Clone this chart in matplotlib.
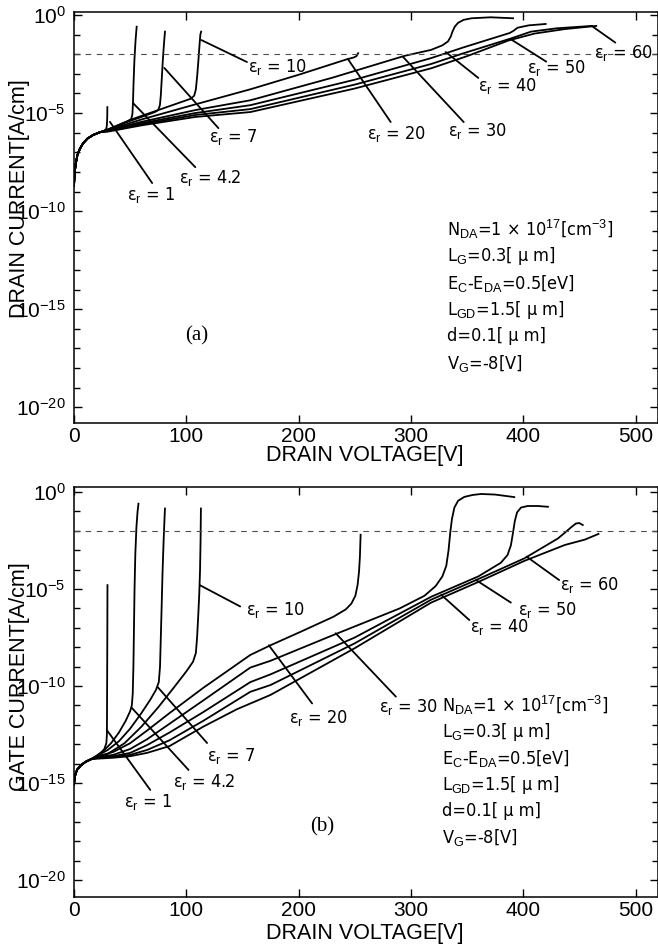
import numpy as np
import matplotlib
matplotlib.use("Agg")
import matplotlib.pyplot as plt
from matplotlib.font_manager import FontProperties, findfont
from matplotlib.ticker import FixedLocator, FuncFormatter, NullFormatter

# curves: (drain voltage [V], log10 of current [A/cm])
drain_start = [(0, -8.7), (0.5, -8.1), (1.5, -7.6), (3, -7.15), (5, -6.85), (8, -6.55),
               (12, -6.3), (17, -6.12), (23, -5.98)]
drain_er1 = [(27, -5.9), (28.8, -5.8), (29.3, -5.6), (29.6, -5.2), (29.7, -4.7)]
drain_er4 = [(30, -5.84), (40, -5.6), (48, -5.42), (51, -5.3), (52, -5.05), (52.5, -4.5),
             (53, -3.5), (53.8, -2.3), (54.8, -1.3), (55.8, -0.6)]
drain_er7 = [(30, -5.85), (45, -5.5), (60, -5.2), (72, -4.95), (75, -4.85), (76.5, -4.6),
             (77.3, -4.1), (78.2, -3.2), (79.2, -2.2), (80.2, -1.4), (81, -0.85)]
drain_er10 = [(30, -5.86), (50, -5.35), (75, -4.85), (95, -4.45), (104, -4.27), (107, -4.12),
              (108.5, -3.8), (109.7, -3.1), (110.8, -2.3), (111.8, -1.5), (112.5, -1.0), (113.2, -0.85)]
drain_er20 = [(30, -5.87), (60, -5.33), (108, -4.56), (157, -3.79), (200, -3.05), (243, -2.26),
              (249, -2.17), (251.5, -2.1), (253, -1.95)]
drain_er30 = [(30, -5.88), (60, -5.45), (108, -4.85), (157, -4.35), (230, -3.2), (294, -2.09),
              (318, -1.78), (328, -1.55), (333, -1.35), (335.5, -1.1), (337, -0.85), (339, -0.6),
              (342, -0.4), (347, -0.25), (354, -0.17), (371, -0.12), (391, -0.17)]
drain_er40 = [(30, -5.9), (60, -5.52), (108, -5.0), (157, -4.6), (250, -3.3), (318, -2.2),
              (347, -1.65), (375, -1.15), (388, -0.92), (391, -0.82), (395, -0.65), (405, -0.53),
              (420, -0.46)]
drain_er50 = [(30, -5.92), (60, -5.58), (108, -5.1), (157, -4.8), (250, -3.55), (318, -2.5),
              (347, -1.95), (389, -1.2), (407, -0.85), (430, -0.68), (461, -0.56)]
drain_er60 = [(30, -5.95), (60, -5.63), (108, -5.2), (157, -4.95), (250, -3.75), (318, -2.72),
              (350, -2.1), (387, -1.3), (410, -0.95), (437, -0.72), (465, -0.56)]

gate_start = [(0, -15.1), (0.5, -14.75), (1.5, -14.5), (3, -14.3), (6, -14.1), (10, -13.92),
              (15, -13.78)]
gate_er1 = [(20, -13.62), (24, -13.45), (27, -13.25), (28.8, -12.95), (29.3, -12.5), (29.5, -10),
            (29.7, -7), (29.8, -4.8)]
gate_er4 = [(20, -13.6), (27, -13.3), (33, -12.95), (40, -12.4), (46, -11.8), (50, -11.3),
            (51.5, -11.0), (52.3, -10.4), (52.9, -9), (53.4, -7), (53.9, -5), (54.6, -3.2),
            (55.6, -1.8), (56.6, -1.0), (57.4, -0.6)]
gate_er7 = [(20, -13.62), (30, -13.3), (40, -12.85), (50, -12.2), (60, -11.4), (68, -10.7),
            (73, -10.2), (75.5, -9.8), (76.6, -9.0), (77.3, -7.5), (78, -6), (78.8, -4.2),
            (79.8, -2.5), (80.5, -1.5), (81, -0.85)]
gate_er10 = [(20, -13.65), (30, -13.5), (45, -12.95), (60, -12.1), (75, -11.1), (90, -10.0),
             (100, -9.25), (106, -8.75), (108.5, -8.3), (109.6, -7.5), (110.6, -6.4), (111.5, -5.3),
             (112.2, -4.1), (112.7, -2.5), (113, -0.85)]
gate_er20 = [(20, -13.65), (35, -13.4), (50, -12.95), (65, -12.3), (85, -11.4), (115, -10.1),
             (157, -8.4), (175, -7.9), (202, -7.2), (231, -6.43), (242, -6.05), (247, -5.75),
             (250.5, -5.35), (252.5, -4.8), (253.8, -4.1), (254.6, -3.3), (255.2, -2.2)]
gate_er30 = [(20, -13.68), (35, -13.55), (50, -13.25), (65, -12.75), (85, -11.95), (115, -10.75),
             (157, -9.05), (175, -8.7), (231, -7.37), (290, -6.0), (312, -5.35), (322, -4.85),
             (328, -4.35), (331.5, -3.8), (333.5, -3.0), (335, -2.1), (336.5, -1.4), (338.7, -0.8),
             (342, -0.45), (347.6, -0.25), (355, -0.15), (362.5, -0.1), (375, -0.13), (392, -0.26)]
gate_er40 = [(20, -13.7), (35, -13.62), (50, -13.45), (65, -13.05), (85, -12.4), (115, -11.35),
             (157, -9.8), (175, -9.4), (250, -7.5), (318, -5.4), (360, -4.35), (380, -3.65),
             (386, -3.25), (389, -2.75), (390.8, -2.13), (392.5, -1.5), (394.5, -1.05), (398, -0.8),
             (404, -0.72), (413, -0.72), (422, -0.76)]
gate_er50 = [(20, -13.72), (35, -13.66), (50, -13.55), (65, -13.3), (85, -12.8), (115, -11.8),
             (157, -10.3), (175, -9.95), (250, -7.8), (318, -5.55), (359.5, -4.5), (401, -3.42),
             (431, -2.39), (438, -2.05), (443, -1.8), (447, -1.62), (450, -1.6), (453, -1.7)]
gate_er60 = [(20, -13.75), (35, -13.7), (50, -13.62), (65, -13.45), (85, -13.1), (115, -12.1),
             (145, -11.2), (175, -10.46), (250, -8.05), (318, -5.7), (359.5, -4.65), (401, -3.55),
             (437, -2.73), (455, -2.45), (467, -2.16)]

eps_values = ["1", "4.2", "7", "10", "20", "30", "40", "50", "60"]
drain_curves = [drain_er1, drain_er4, drain_er7, drain_er10, drain_er20,
                drain_er30, drain_er40, drain_er50, drain_er60]
gate_curves = [gate_er1, gate_er4, gate_er7, gate_er10, gate_er20,
               gate_er30, gate_er40, gate_er50, gate_er60]

# label text position, leader start, leader end (V, log10 I)
drain_labels = [((69, -9.2), (69.6, -8.57), (32, -5.45)),
                ((121, -8.3), (108, -7.76), (52.7, -4.5)),
                ((142, -6.2), (128.6, -5.77), (80.4, -2.7)),
                ((181, -2.65), (154, -2.4), (113.4, -1.28)),
                ((287, -6.05), (282, -5.46), (243.8, -2.24)),
                ((359, -5.9), (347, -5.46), (293, -2.14)),
                ((386, -3.6), (360, -3.21), (331, -1.89)),
                ((430, -2.72), (420.5, -2.38), (389, -1.24)),
                ((489, -1.95), (482, -1.41), (461, -0.56))]
gate_labels = [((66, -16.0), (67.9, -15.36), (29.2, -12.27)),
               ((116, -14.95), (102, -14.33), (51.5, -11.13)),
               ((140, -13.6), (118.5, -12.94), (74.4, -10.05)),
               ((179.5, -6.1), (148, -5.9), (112, -4.8)),
               ((218, -11.65), (212, -10.9), (173.5, -7.9)),
               ((298, -11.1), (286.6, -10.55), (233, -7.28)),
               ((378.6, -6.95), (352, -6.6), (327, -5.3)),
               ((422, -6.1), (389, -5.7), (358, -4.54)),
               ((459, -4.8), (432, -4.54), (403, -3.33))]

param_lines = [r"N$_{\mathrm{DA}}$=1 × 10$^{17}$[cm$^{-3}$]",
               r"L$_{\mathrm{G}}$=0.3[ μ m]",
               r"E$_{\mathrm{C}}$-E$_{\mathrm{DA}}$=0.5[eV]",
               r"L$_{\mathrm{GD}}$=1.5[ μ m]",
               "d=0.1[ μ m]",
               r"V$_{\mathrm{G}}$=-8[V]"]


def narrow_font():
    for fp in [FontProperties(family="Liberation Sans Narrow"),
               FontProperties(family="DejaVu Sans", stretch="condensed")]:
        try:
            path = findfont(fp, fallback_to_default=False)
        except Exception:
            continue
        if "Narrow" in path or "Condensed" in path:
            return path
    return None


narrow_path = narrow_font()


def nfont(size):
    if narrow_path:
        return FontProperties(fname=narrow_path, size=size)
    return FontProperties(family="Liberation Sans", size=size * 0.88)


plt.rcParams["font.family"] = ["Liberation Sans", "DejaVu Sans"]
plt.rcParams["mathtext.fontset"] = "custom"
plt.rcParams["mathtext.rm"] = "Liberation Sans"
plt.rcParams["mathtext.it"] = "Liberation Sans:italic"

fig = plt.figure(figsize=(6.58, 9.48), dpi=100)
W, H = 658.0, 948.0


def panel(rect, start, curves, labels, ylim, tag, tag_pos, par_pos, ylab, ylab_y, xlab_y):
    ax = fig.add_axes(rect)
    ax.set_yscale("log")
    for c in curves:
        pts = np.array(start + c)
        ax.plot(pts[:, 0], 10.0 ** pts[:, 1], color="k", lw=1.3, solid_joinstyle="round")
    ax.axhline(1e-2, color="0.3", lw=0.8, ls=(0, (5, 5)))
    for val, (txt, a, b) in zip(eps_values, labels):
        ax.annotate("", xy=(b[0], 10 ** b[1]), xytext=(a[0], 10 ** a[1]),
                    arrowprops=dict(arrowstyle="-", lw=1.3, color="k", shrinkA=0, shrinkB=0))
        ax.text(txt[0], 10 ** txt[1], r"ε$_{\mathrm{r}}$ = " + val, fontproperties=nfont(13),
                ha="center", va="center")
    ax.set_xlim(0, 520)
    ax.set_ylim(10 ** ylim[0], 10 ** ylim[1])
    ax.set_xticks([0, 100, 200, 300, 400, 500])
    ax.yaxis.set_major_locator(FixedLocator(10.0 ** np.arange(-20, 1, 5)))
    ax.yaxis.set_minor_locator(FixedLocator(10.0 ** np.arange(-21, 1)))
    ax.yaxis.set_minor_formatter(NullFormatter())
    ax.yaxis.set_major_formatter(FuncFormatter(lambda v, p: r"$\mathrm{10^{%d}}$" % round(np.log10(v))))
    ax.tick_params(which="both", direction="in", top=True, right=True, labelsize=15)
    ax.tick_params(which="major", length=6, width=1, pad=3)
    ax.tick_params(which="minor", length=4, width=1)
    ax.tick_params(axis="y", which="major", pad=6)
    for s in ax.spines.values():
        s.set_linewidth(1.1)
    ax.text(tag_pos[0], 10 ** tag_pos[1], tag, family="Liberation Serif", fontsize=15,
            ha="center", va="center")
    for i, line in enumerate(param_lines):
        ax.text(par_pos[0], 10 ** (par_pos[1] - i * 1.36), line, fontproperties=nfont(13),
                ha="left", va="center")
    fig.text(20 / W, 1 - ylab_y / H, ylab, rotation=90, fontsize=15.5, ha="center", va="center")
    fig.text(365 / W, 1 - xlab_y / H, "DRAIN VOLTAGE[V]", fontsize=15.5, ha="center", va="center")
    return ax


panel([74 / W, 1 - 423 / H, 584 / W, 411 / H], drain_start, drain_curves, drain_labels,
      (-20.8, 0.15), "(a)", (109, -16.35), (332, -10.95), "DRAIN CURRENT[A/cm]", 199, 456)
panel([74 / W, 1 - 897 / H, 584 / W, 410 / H], gate_start, gate_curves, gate_labels,
      (-20.88, 0.26), "(b)", (221, -17.27), (328, -11.0), "GATE CURRENT[A/cm]", 677, 933)

fig.savefig("out.png", dpi=100)
